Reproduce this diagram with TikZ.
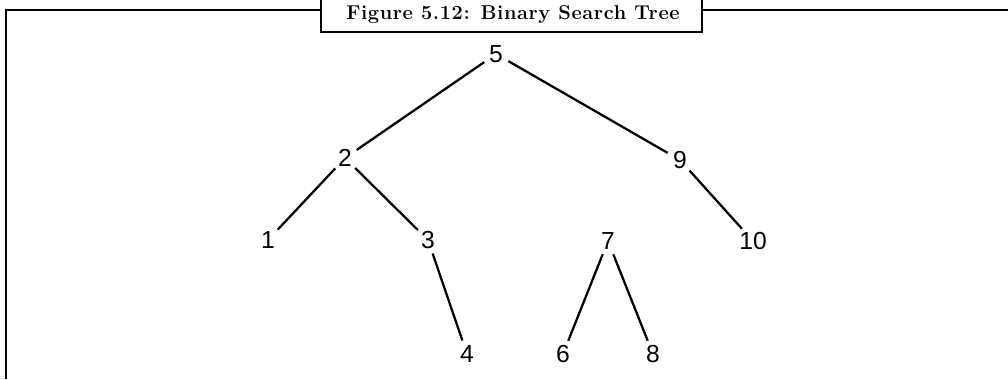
\documentclass[tikz,border=0pt]{standalone}
\usepackage{fontspec}
\newfontfamily\keyfont{Liberation Sans}
\newfontfamily\capfont[LetterSpace=3]{Latin Modern Roman}

\begin{document}
\begin{tikzpicture}[
    x=0.75pt, y=-0.75pt, % One unit is one pixel of the reference
    frame/.style={line width=1.6pt}, % Style for the outer frame
    key/.style={circle, inner sep=0pt, minimum size=21pt, font=\keyfont\fontsize{18.5}{20}\selectfont}, % Style for a tree key
    edge/.style={line width=1.7pt} % Style for a tree edge
]

    \useasboundingbox (0,0) rectangle (1008,379);

    % Frame and caption box
    \draw[frame] (6,379) |- (1008,10);
    \draw[frame, fill=white] (321,-10) rectangle (702,32);
    \node[font=\capfont\fontsize{15}{18}\selectfont\bfseries] (caption) at (513,14.5) {Figure 5.12: Binary Search Tree};

    % Keys of the tree
    \node[key] (k5) at (496,54) {5};
    \node[key] (k2) at (345,158) {2};
    \node[key] (k9) at (680,160) {9};
    \node[key] (k1) at (268,240) {1};
    \node[key] (k3) at (428,240) {3};
    \node[key] (k7) at (608,241) {7};
    \node[key] (k10) at (753,241) {10};
    \node[key] (k4) at (467,354) {4};
    \node[key] (k6) at (563,354) {6};
    \node[key] (k8) at (653,354) {8};

    % Edges
    \draw[edge] (k5) -- (k2);
    \draw[edge] (k5) -- (k9);
    \draw[edge] (k2) -- (k1);
    \draw[edge] (k2) -- (k3);
    \draw[edge] (k3) -- (k4);
    \draw[edge] (k9) -- (k10);
    \draw[edge] (k7) -- (k6);
    \draw[edge] (k7) -- (k8);

\end{tikzpicture}
\end{document}
